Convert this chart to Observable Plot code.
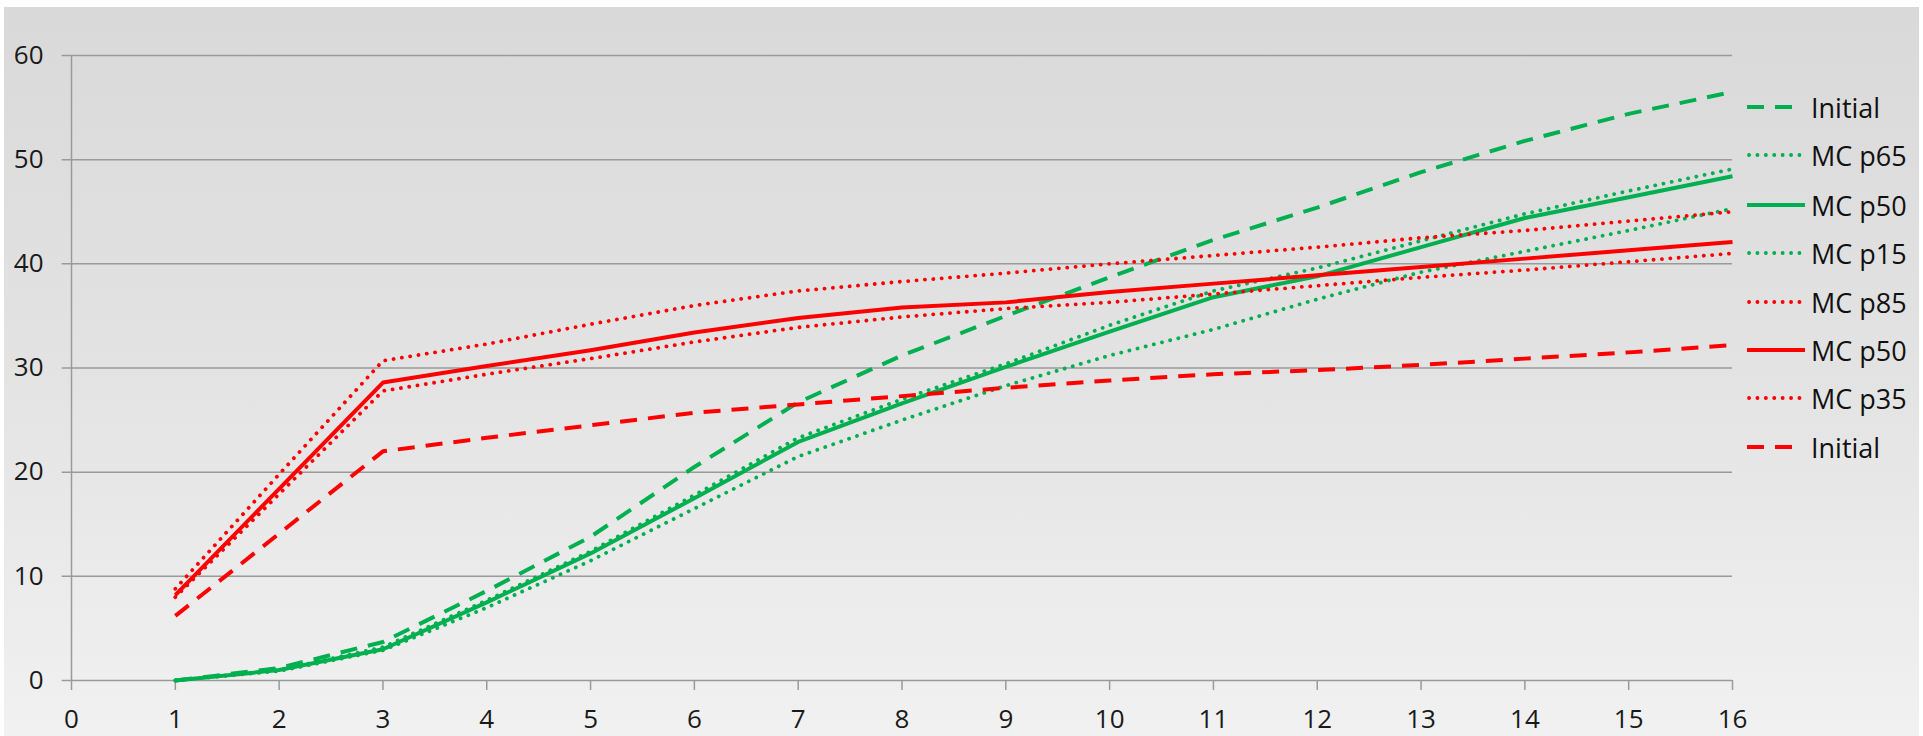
<!DOCTYPE html>
<html>
<head>
<meta charset="utf-8">
<script src="https://cdn.jsdelivr.net/npm/d3@7"></script>
<script src="https://cdn.jsdelivr.net/npm/@observablehq/plot@0.6"></script>
<style>
  html, body { margin: 0; padding: 0; background: #ffffff; }
  #frame {
    position: absolute; left: 4px; top: 7px; width: 1915px; height: 729px;
    background: linear-gradient(to bottom, #d9d9d9 0%, #e3e3e3 50%, #f1f1f1 100%);
  }
  #chart { position: absolute; left: 0; top: 0; }
  #legend { position: absolute; left: 1747px; top: 0; font-family: "Open Sans", sans-serif; font-size: 27px; color: #111; }
  .row { position: absolute; left: 0; height: 40px; display: flex; align-items: center; white-space: nowrap; }
  .row svg { display: block; margin-right: 6px; }
</style>
</head>
<body>
<div id="frame"></div>
<div id="chart"></div>
<div id="legend"></div>
<script>
// ---- data ----
const periods = [1, 2, 3, 4, 5, 6, 7, 8, 9, 10, 11, 12, 13, 14, 15, 16];
const xTicks = [0, 1, 2, 3, 4, 5, 6, 7, 8, 9, 10, 11, 12, 13, 14, 15, 16];
const yTicks = [0, 10, 20, 30, 40, 50, 60];

const greenInitial = [0, 1.2, 3.7, 8.6, 13.8, 20.5, 26.7, 31.2, 35.0, 38.7, 42.3, 45.4, 48.8, 51.8, 54.4, 56.5];
const greenP65     = [0, 1.0, 3.2, 7.7, 12.4, 17.8, 23.3, 27.0, 30.4, 34.1, 37.4, 39.6, 42.2, 44.8, 47.0, 49.1];
const greenP50     = [0, 1.0, 3.0, 7.5, 12.2, 17.5, 22.9, 26.6, 30.1, 33.5, 36.8, 38.8, 41.6, 44.4, 46.4, 48.4];
const greenP15     = [0, 0.9, 2.9, 7.0, 11.5, 16.5, 21.5, 25.0, 28.3, 31.2, 33.7, 36.6, 39.2, 41.2, 43.2, 45.3];
const redP85       = [8.8, 19.8, 30.7, 32.3, 34.2, 36.0, 37.4, 38.3, 39.1, 40.0, 40.8, 41.6, 42.5, 43.2, 44.1, 45.0];
const redP50       = [8.2, 18.4, 28.6, 30.2, 31.7, 33.4, 34.8, 35.8, 36.3, 37.3, 38.1, 38.9, 39.7, 40.5, 41.3, 42.1];
const redP35       = [8.0, 17.9, 27.8, 29.4, 30.9, 32.5, 33.9, 34.9, 35.7, 36.3, 37.1, 37.9, 38.7, 39.4, 40.2, 41.0];
const redInitial   = [6.2, 14.1, 22.0, 23.3, 24.5, 25.7, 26.5, 27.3, 28.1, 28.8, 29.4, 29.8, 30.3, 30.9, 31.5, 32.2];

const seriesLabels = ["Initial", "MC p65", "MC p50", "MC p15", "MC p85", "MC p50", "MC p35", "Initial"];
const seriesValues = [greenInitial, greenP65, greenP50, greenP15, redP85, redP50, redP35, redInitial];
const seriesColors = ["#00b050", "#00b050", "#00b050", "#00b050", "#ff0000", "#ff0000", "#ff0000", "#ff0000"];
const seriesStyles = ["dash", "dot", "solid", "dot", "dot", "solid", "dot", "dash"];

// ---- styles ----
const styleProps = {
  dash:  {strokeWidth: 4, strokeDasharray: "17,11", strokeLinecap: "butt"},
  dot:   {strokeWidth: 3.8, strokeDasharray: "0.1,8.3", strokeLinecap: "round"},
  solid: {strokeWidth: 4, strokeDasharray: null, strokeLinecap: "butt"}
};

const W = 1923, H = 736;
const gridColor = "#9a9a9a";

const marks = [
  Plot.gridY(yTicks, {stroke: gridColor, strokeOpacity: 1, strokeWidth: 1.5, x1: -0.09, x2: 16}),
  Plot.ruleX([0], {stroke: gridColor, strokeWidth: 1.5}),
  Plot.axisY({ticks: yTicks, tickSize: 0, tickPadding: 28, fontSize: 26, fill: "#1a1a1a", label: null}),
  Plot.axisX({ticks: xTicks, tickSize: 10, tickPadding: 19, fontSize: 26, fill: "#1a1a1a", stroke: gridColor, strokeWidth: 1.5, label: null}),
];

seriesValues.forEach((vals, i) => {
  const data = periods.map((p, j) => ({x: p, y: vals[j]}));
  const st = styleProps[seriesStyles[i]];
  marks.push(Plot.line(data, {
    x: "x", y: "y", stroke: seriesColors[i],
    strokeWidth: st.strokeWidth,
    strokeDasharray: st.strokeDasharray || undefined,
    strokeLinecap: st.strokeLinecap,
    strokeLinejoin: "round"
  }));
});

const chart = Plot.plot({
  width: W, height: H,
  marginLeft: 71, marginRight: 191, marginTop: 55, marginBottom: 56,
  style: {background: "transparent", fontFamily: "'Open Sans', sans-serif", color: "#1a1a1a"},
  x: {domain: [0, 16], label: null},
  y: {domain: [0, 60], label: null},
  marks
});
document.getElementById("chart").appendChild(chart);

// ---- legend ----
const legendY = [107, 155, 205, 253, 302, 350, 398, 447];
const legend = d3.select("#legend");
seriesLabels.forEach((lab, i) => {
  const row = legend.append("div").attr("class", "row").style("top", (legendY[i] - 20) + "px");
  const svg = row.append("svg").attr("width", 58).attr("height", 10);
  const st = styleProps[seriesStyles[i]];
  const len = seriesStyles[i] === "dash" ? 45 : seriesStyles[i] === "dot" ? 53 : 58;
  const x0 = seriesStyles[i] === "dot" ? 2 : 0;
  svg.append("line").attr("x1", x0).attr("x2", len).attr("y1", 5).attr("y2", 5)
    .attr("stroke", seriesColors[i]).attr("stroke-width", st.strokeWidth)
    .attr("stroke-dasharray", seriesStyles[i] === "dash" ? "17,11" : st.strokeDasharray)
    .attr("stroke-linecap", st.strokeLinecap);
  row.append("span").text(lab);
});
</script>
</body>
</html>
